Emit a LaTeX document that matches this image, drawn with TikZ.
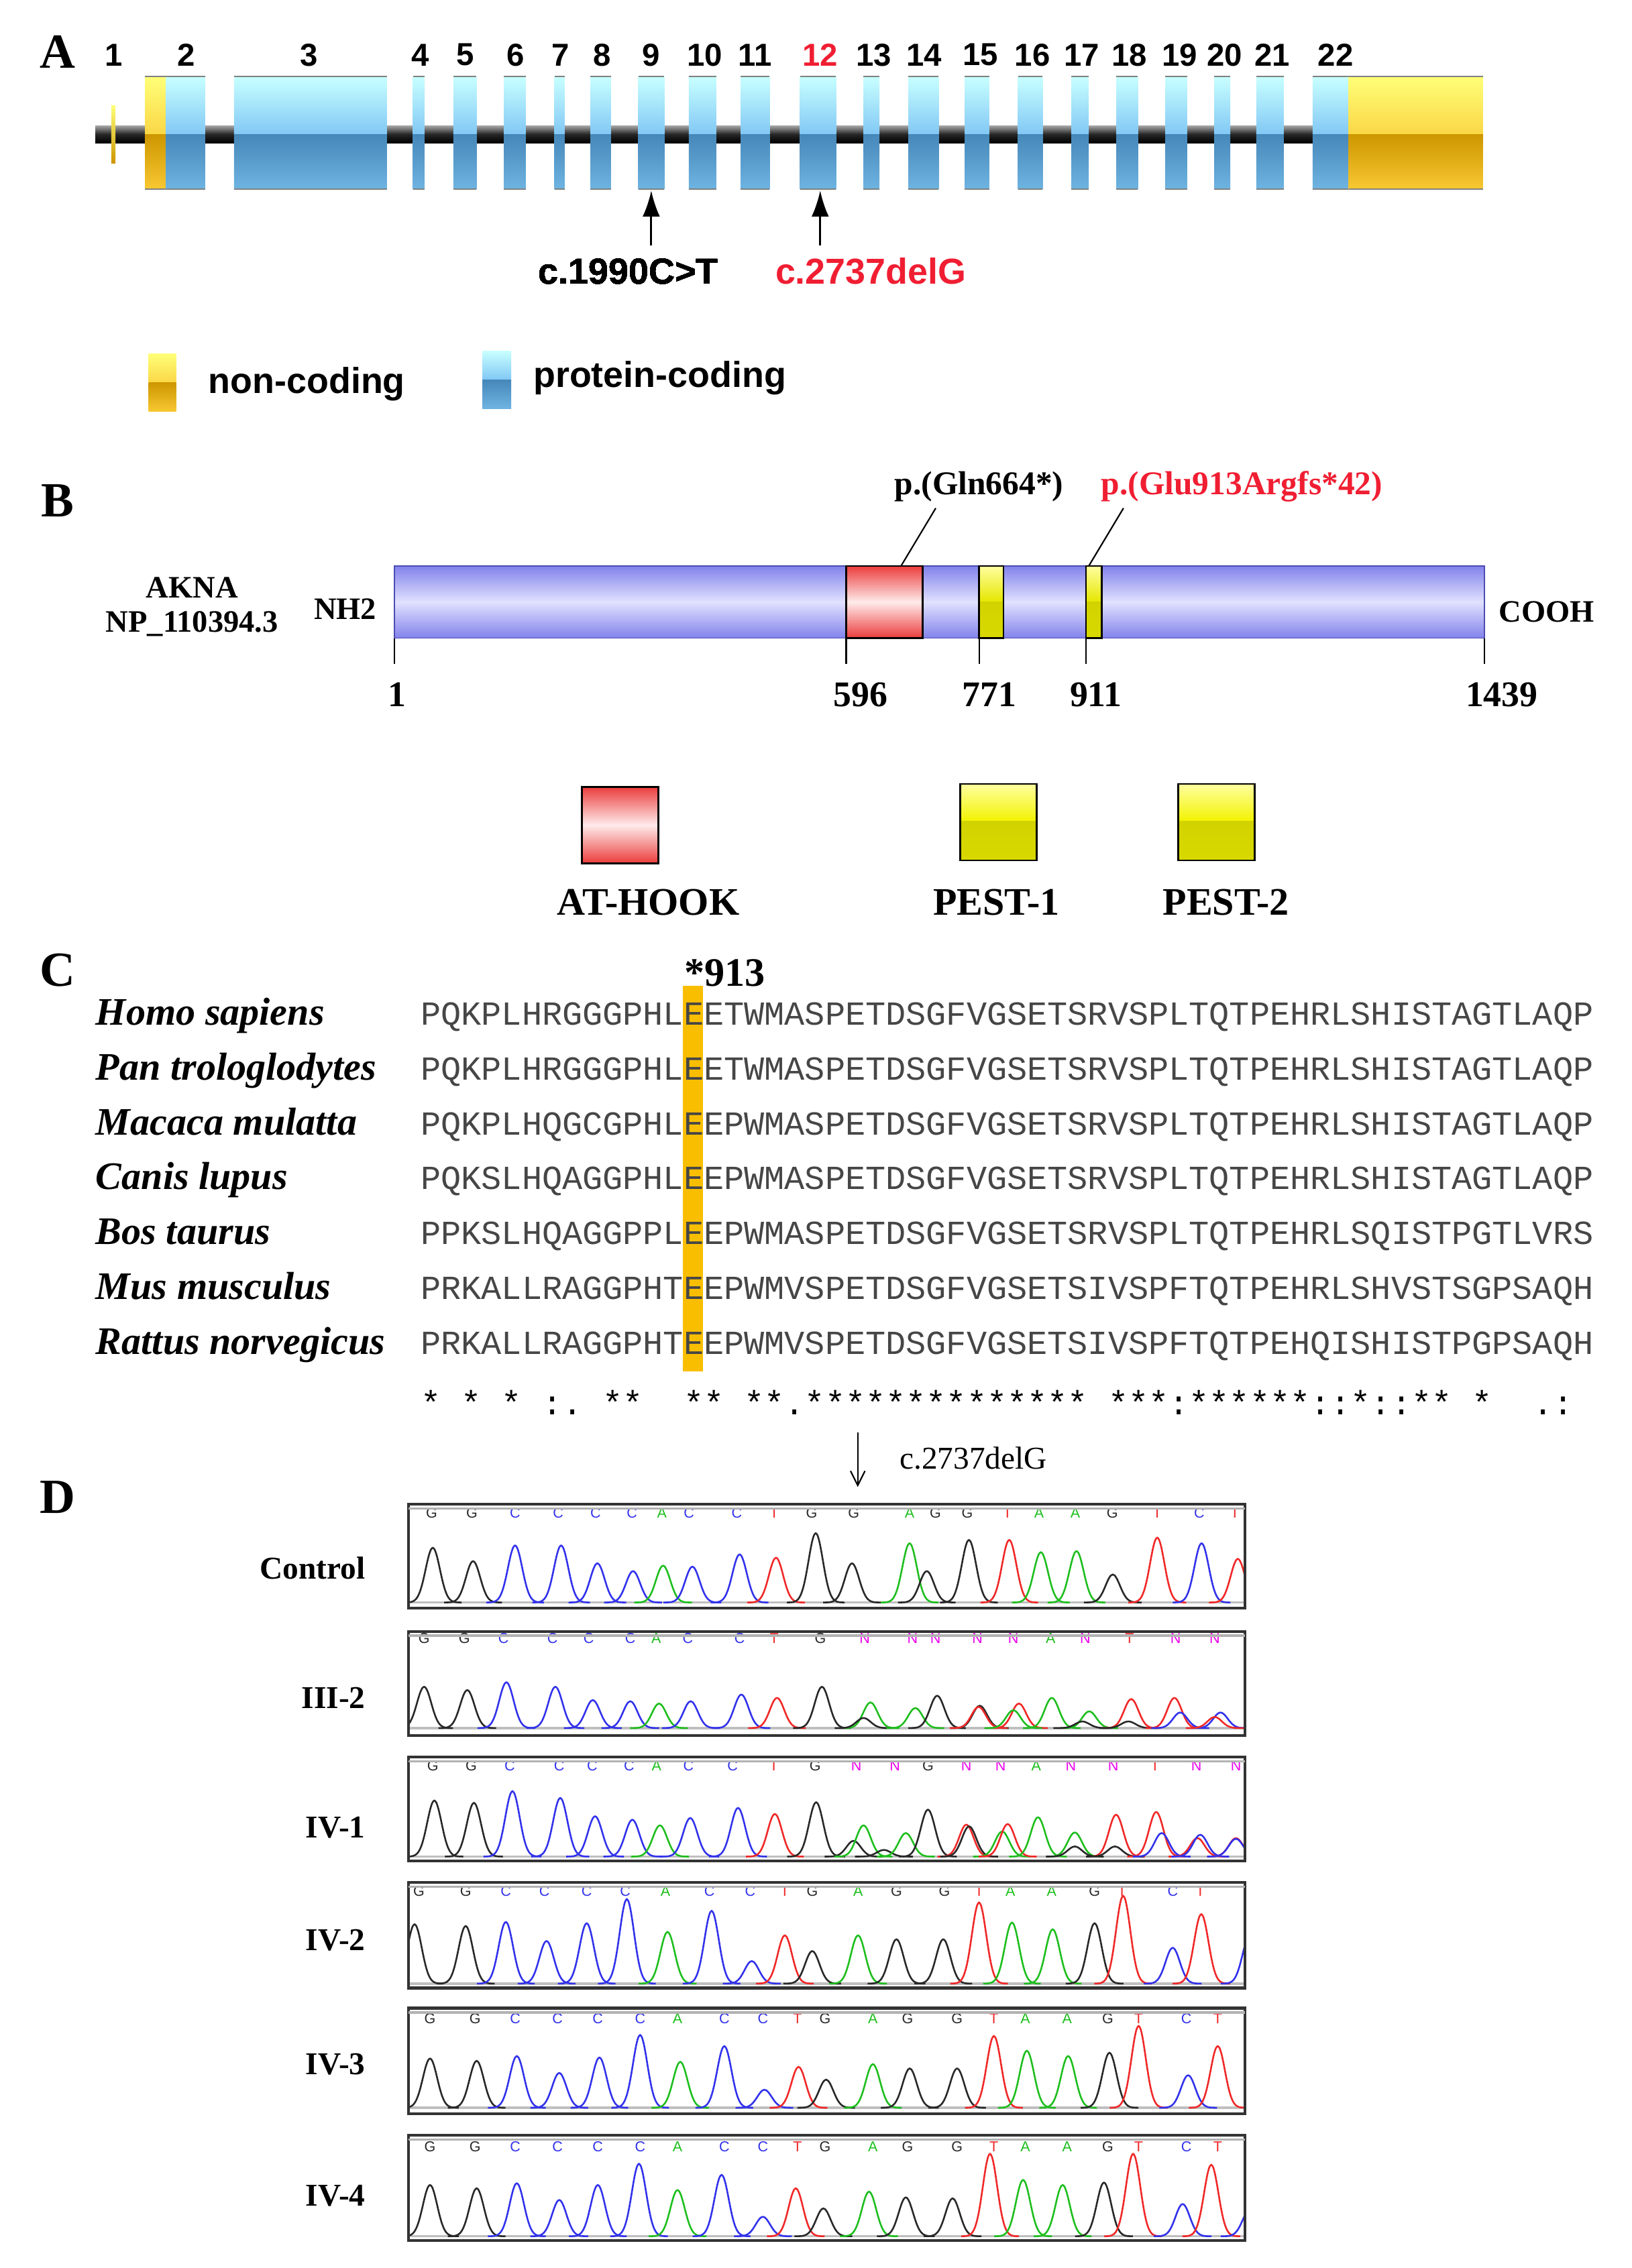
\documentclass[tikz,border=0pt]{standalone}
\usepackage{fontspec}
\setmainfont{Liberation Serif}
\newfontfamily\arialf{Liberation Sans}
\newfontfamily\monof{Liberation Mono}
\usetikzlibrary{arrows.meta}
\definecolor{bG}{RGB}{40,40,40}
\definecolor{bC}{RGB}{50,50,235}
\definecolor{bA}{RGB}{30,190,30}
\definecolor{bT}{RGB}{240,40,40}
\definecolor{bN}{RGB}{235,0,235}
\definecolor{exTop}{RGB}{200,255,255}
\definecolor{exMid}{RGB}{130,200,245}
\definecolor{exDark}{RGB}{70,135,185}
\definecolor{exBot}{RGB}{110,180,225}
\definecolor{yTop}{RGB}{255,255,120}
\definecolor{yMid}{RGB}{250,215,70}
\definecolor{yDark}{RGB}{205,150,0}
\definecolor{yBot}{RGB}{248,200,50}
\definecolor{hl}{RGB}{250,190,0}
\definecolor{mut}{RGB}{240,30,50}
\definecolor{barEdge}{RGB}{130,130,235}
\definecolor{barMid}{RGB}{225,225,255}
\definecolor{atRed}{RGB}{235,60,60}
\definecolor{atMid}{RGB}{255,235,235}
\definecolor{pTop}{RGB}{255,255,160}
\definecolor{pBot}{RGB}{210,210,0}
\newcommand\exonB[2]{%
  \shade[top color=exTop,bottom color=exMid] (#1,53) rectangle (#2,93);
  \shade[top color=exDark,bottom color=exBot] (#1,93) rectangle (#2,131);
  \draw[gray,line width=.5pt] (#1,53)--(#2,53) (#1,131)--(#2,131);}
\newcommand\exonY[2]{%
  \shade[top color=yTop,bottom color=yMid] (#1,53) rectangle (#2,93);
  \shade[top color=yDark,bottom color=yBot] (#1,93) rectangle (#2,131);
  \draw[gray,line width=.5pt] (#1,53)--(#2,53) (#1,131)--(#2,131);}
\newcommand\pk[4]{%
  \pgfmathsetmacro\da{#2-20}\pgfmathsetmacro\db{#2+20}%
  \draw[#4,line width=.6pt] plot[domain=\da:\db,samples=31,smooth] (\x,{#1-(#3)*exp(-((\x-(#2))/7)^2)});}
\newcommand\chrom[8]{%
  \begin{scope}
  \clip (283,#1) rectangle (862,#2);
  \draw[gray!50,line width=.8pt] (283,#3) -- (862,#3);
  \foreach \p/\h/\c in {#8} {\pk{#3}{\p}{\h}{b\c}}
  \end{scope}
  \foreach \p/\l in {#7} {\node[font=\fontsize{5}{5}\selectfont\arialf,text=b\l,inner sep=0] at (\p,#4) {\l};}
  \draw[gray!40!black,line width=1pt] (283,#1) rectangle (862,#2);
  \draw[gray!60,line width=.8pt] (283,{#1+3}) -- (862,{#1+3});
  \node[anchor=east,font=\fontsize{11}{11}\selectfont\bfseries] at (260,#6) {#5};}
\tikzset{
  panel/.style={font=\fontsize{17}{17}\selectfont\bfseries,inner sep=0},
  exnum/.style={font=\fontsize{11}{11}\selectfont\arialf\bfseries,inner sep=0},
  mutlab/.style={font=\fontsize{12.5}{12.5}\selectfont\arialf\bfseries,inner sep=0},
  bl/.style={font=\fontsize{12.5}{12.5}\selectfont\bfseries,inner sep=0},
  species/.style={font=\fontsize{13.5}{13.5}\selectfont\bfseries\itshape,anchor=base west,inner sep=0},
  seq/.style={font=\fontsize{11.667}{11.667}\selectfont\monof,text=gray!55!black,anchor=base west,inner sep=0},
}
\begin{document}
\begin{tikzpicture}[x=0.5pt,y=-0.5pt]
\useasboundingbox (0,0) rectangle (1130,1571);
% ---------- Panel A ----------
\node[panel] (pA) at (40,36) {A};
\foreach \n/\xx in {1/79,2/129,3/214,4/291,5/322,6/357,7/388,8/417,9/451,10/488,11/523,13/605,14/640,15/679,16/715,17/749,18/782,19/817,20/848,21/881,22/925}
  \node[exnum] (n\n) at (\xx,38) {\n};
\node[exnum,text=mut] (n12) at (568,38) {12};
\shade[top color=gray!70,bottom color=black,middle color=black!85] (66,87) rectangle (912,99);
\shade[top color=yTop,bottom color=yDark] (77,73) rectangle (80,113);
\exonY{100.5}{115}
\foreach \a/\b in {115/142,162/268,286/294,314/330,349/364,384/391,409/423,442/460,477/496,513/533,554/579,598/609,629/650,668/685,705/722,742/754,773/788,807/822,841/852,870/889,909/934}
  \exonB{\a}{\b}
\exonY{934}{1027}
\node[mutlab] (m1) at (435,188) {c.1990C>T};
\node[mutlab,text=mut] (m2) at (603,188) {c.2737delG};
\coordinate (e9) at (451,132); \coordinate (e9b) at (451,170);
\coordinate (e12) at (568,132); \coordinate (e12b) at (568,170);
\draw[line width=.7pt,-{Latex[length=9pt,width=6pt]}] (e9b) -- (e9);
\draw[line width=.7pt,-{Latex[length=9pt,width=6pt]}] (e12b) -- (e12);
% legend A
\shade[top color=yTop,bottom color=yMid] (103,245) rectangle (122,265);
\shade[top color=yDark,bottom color=yBot] (103,265) rectangle (122,285);
\shade[top color=exTop,bottom color=exMid] (334,243) rectangle (354,263);
\shade[top color=exDark,bottom color=exBot] (334,263) rectangle (354,283);
\node[mutlab,anchor=west] (lg1) at (144,266) {non-coding};
\node[mutlab,anchor=west] (lg2) at (369,262) {protein-coding};
% ---------- Panel B ----------
\node[panel] (pB) at (40,347) {B};
\shade[top color=barEdge,bottom color=barEdge,middle color=barMid] (273,392) rectangle (1028,442);
\draw[gray!60!blue,line width=.4pt] (273,392) rectangle (1028,442);
\shade[top color=atRed,bottom color=atRed,middle color=atMid] (586,392) rectangle (639,442);
\draw[black,line width=.6pt] (586,392) rectangle (639,442);
\foreach \a/\b in {678/695,752/763}{
  \shade[top color=pTop,bottom color=yellow!90!black] (\a,392) rectangle (\b,417);
  \shade[top color=pBot,bottom color=yellow!85!black] (\a,417) rectangle (\b,442);
  \draw[black,line width=.6pt] (\a,392) rectangle (\b,442);}
\foreach \t in {273,586,678,752,1028} \draw[line width=.5pt] (\t,442) -- (\t,460);
\node[bl] (t1) at (275,481) {1};
\node[bl] (t2) at (596,481) {596};
\node[bl] (t3) at (685,481) {771};
\node[bl] (t4) at (759,481) {911};
\node[bl] (t5) at (1040,481) {1439};
\node[font=\fontsize{10.8}{10.8}\selectfont\bfseries,inner sep=0] (ak) at (133,407) {AKNA};
\node[font=\fontsize{10.8}{10.8}\selectfont\bfseries,inner sep=0] (np) at (133,432) {NP\_110394.3};
\node[font=\fontsize{10.8}{10.8}\selectfont\bfseries,inner sep=0] (nh) at (239,422) {NH2};
\node[font=\fontsize{10.8}{10.8}\selectfont\bfseries,inner sep=0] (co) at (1071,424) {COOH};
\node[font=\fontsize{11.5}{11.5}\selectfont\bfseries,inner sep=0] (g664) at (678,337) {p.(Gln664*)};
\node[font=\fontsize{11.5}{11.5}\selectfont\bfseries,text=mut,inner sep=0] (g913) at (860,337) {p.(Glu913Argfs*42)};
\coordinate (c1a) at (648,352); \coordinate (c1b) at (624,392);
\coordinate (c2a) at (778,352); \coordinate (c2b) at (754,392);
\draw[line width=.5pt] (c1a) -- (c1b);
\draw[line width=.5pt] (c2a) -- (c2b);
% legend B
\shade[top color=atRed,bottom color=atRed,middle color=atMid] (403,545) rectangle (456,598);
\draw[line width=.6pt] (403,545) rectangle (456,598);
\foreach \a in {665,816}{
  \shade[top color=pTop,bottom color=yellow!95!black] (\a,543) rectangle (\a+53,569);
  \shade[top color=pBot,bottom color=yellow!85!black] (\a,569) rectangle (\a+53,596);
  \draw[line width=.6pt] (\a,543) rectangle (\a+53,596);}
\node[font=\fontsize{13.5}{13.5}\selectfont\bfseries,inner sep=0] (lat) at (449,625) {AT-HOOK};
\node[font=\fontsize{13.5}{13.5}\selectfont\bfseries,inner sep=0] (lp1) at (690,625) {PEST-1};
\node[font=\fontsize{13.5}{13.5}\selectfont\bfseries,inner sep=0] (lp2) at (849,625) {PEST-2};
% ---------- Panel C ----------
\node[panel] (pC) at (40,672) {C};
\fill[hl] (473,683) rectangle (487,950);
\node[font=\fontsize{14}{14}\selectfont\bfseries,inner sep=0] (s913) at (502,674) {*913};
\foreach \i/\sp/\sq in {0/Homo sapiens/PQKPLHRGGGPHLEETWMASPETDSGFVGSETSRVSPLTQTPEHRLSHISTAGTLAQP,
  1/Pan trologlodytes/PQKPLHRGGGPHLEETWMASPETDSGFVGSETSRVSPLTQTPEHRLSHISTAGTLAQP,
  2/Macaca mulatta/PQKPLHQGCGPHLEEPWMASPETDSGFVGSETSRVSPLTQTPEHRLSHISTAGTLAQP,
  3/Canis lupus/PQKSLHQAGGPHLEEPWMASPETDSGFVGSETSRVSPLTQTPEHRLSHISTAGTLAQP,
  4/Bos taurus/PPKSLHQAGGPPLEEPWMASPETDSGFVGSETSRVSPLTQTPEHRLSQISTPGTLVRS,
  5/Mus musculus/PRKALLRAGGPHTEEPWMVSPETDSGFVGSETSIVSPFTQTPEHRLSHVSTSGPSAQH,
  6/Rattus norvegicus/PRKALLRAGGPHTEEPWMVSPETDSGFVGSETSIVSPFTQTPEHQISHISTPGPSAQH}{
  \node[species] (sp\i) at (66,{710+38*\i}) {\sp};
  \node[seq] (sq\i) at (291,{710+38*\i}) {\sq};}
\node[seq,text=black] (cons) at (291,980) {*~*~*~:.~**~~**~**.**************~***:******::*::**~*~~.:};
\coordinate (ar1) at (594,992); \coordinate (ar2) at (594,1030);
\draw[line width=.5pt,-{Straight Barb[length=5pt,width=5pt]}] (ar1) -- (ar2);
\node[font=\fontsize{11}{11}\selectfont,inner sep=0] (dl) at (674,1010) {c.2737delG};
% ---------- Panel D ----------
\node[panel] (pD) at (40,1037) {D};
\chrom{1042}{1114}{1110}{1048}{Control}{1086}
 {298.9/G,326.8/G,356.7/C,386.6/C,412.5/C,437.7/C,458.4/A,477.1/C,510.2/C,536.2/T,562.1/G,591.2/G,629.9/A,647.8/G,669.8/G,697.7/T,719.6/A,744.7/A,770.3/G,801.4/T,830.5/C,855.2/T}
 {299.7/37.9/G,327.6/28.6/G,356.7/39.5/C,388.6/39.5/C,413.7/27.1/C,438.4/21.7/C,459.2/25.5/A,479.5/24.8/C,512.2/33.3/C,537.4/31.0/T,564.9/48.0/G,590.0/27.1/G,629.9/41.0/A,641.8/21.7/G,671.0/43.3/G,698.9/43.3/T,720.8/34.8/A,745.5/35.6/A,770.6/19.4/G,801.4/44.9/T,832.1/41.0/C,857.2/30.2/T}
\chrom{1130}{1202}{1197}{1135}{III-2}{1176}
 {293.7/G,321.6/G,348.7/C,382.6/C,407.7/C,436.5/C,454.4/A,476.3/C,512.2/C,536.2/T,568.1/G,598.8/N,631.9/N,647.8/N,676.9/N,701.7/N,727.6/A,751.5/N,782.2/T,814.1/N,841.2/N}
 {293.7/28.6/G,323.6/26.3/G,350.7/31.7/C,384.6/28.6/C,410.5/19.4/C,436.5/18.6/C,456.4/17.0/A,478.3/18.6/C,513.4/23.2/C,538.1/20.9/T,569.2/28.6/G,602.8/17.8/A,598.0/7.0/G,633.9/13.9/A,649.0/22.4/G,678.5/15.5/G,677.7/14.7/T,705.6/17.0/T,701.7/12.4/A,728.4/20.9/A,754.3/11.6/A,749.5/4.6/G,783.4/20.1/T,781.4/4.6/G,813.3/20.9/T,817.3/10.8/C,845.2/10.8/C,841.2/7.7/T}
\chrom{1217}{1289}{1286}{1223}{IV-1}{1266}
 {299.7/G,326.3/G,353.0/C,387.3/C,410.1/C,435.7/C,454.7/A,476.8/C,507.3/C,535.9/T,564.5/G,593.0/N,619.7/N,642.6/G,669.2/N,692.9/N,717.6/A,741.6/N,770.9/N,799.9/T,828.5/N,855.9/N}
 {300.8/38.8/G,328.2/37.2/G,354.9/45.3/C,388.0/40.6/C,412.1/27.9/C,437.9/25.5/C,457.0/21.6/A,478.0/26.7/C,511.1/33.7/C,536.6/29.5/T,565.2/37.6/G,591.1/10.9/G,598.0/21.6/A,612.1/4.6/G,627.3/16.3/A,642.6/32.5/G,669.2/22.1/T,671.1/20.9/G,694.0/17.4/A,697.8/22.5/T,718.8/27.2/A,744.3/16.7/A,744.3/7.0/G,772.9/29.0/T,772.1/7.0/G,800.7/30.9/T,804.5/16.3/C,829.2/12.8/T,831.2/15.1/C,855.9/12.8/T,855.9/12.3/C}
\chrom{1304}{1377}{1374}{1310}{IV-2}{1344}
 {290.1/G,322.5/G,350.3/C,377.0/C,406.3/C,433.0/C,460.8/A,491.3/C,519.5/C,543.5/T,562.5/G,594.2/A,620.8/G,654.0/G,678.0/T,699.7/A,728.3/A,758.0/G,777.0/T,812.1/C,831.2/T}
 {287.1/41.1/G,322.5/39.9/G,350.3/42.7/C,378.5/29.5/C,406.3/41.8/C,434.1/58.5/C,462.3/35.8/A,492.8/50.4/C,520.6/15.6/C,543.5/33.4/T,562.5/22.5/G,594.2/33.4/A,620.8/30.7/G,653.2/30.7/G,678.0/56.2/T,700.8/42.3/A,729.0/37.6/A,758.0/41.8/G,777.8/60.8/T,812.1/24.8/C,831.9/48.1/T,865.4/33.0/C}
\chrom{1391}{1464}{1460}{1398}{IV-3}{1430}
 {297.8/G,329.0/G,356.8/C,386.1/C,414.0/C,443.3/C,469.2/A,501.6/C,528.3/C,552.3/T,571.3/G,604.5/A,628.5/G,662.8/G,688.3/T,710.0/A,739.0/A,767.1/G,788.5/T,821.6/C,843.3/T}
 {297.8/34.1/G,330.1/32.5/G,357.9/35.8/C,387.3/24.1/C,415.1/34.8/C,443.3/50.4/C,471.1/31.8/A,501.6/42.7/C,529.4/12.5/C,553.0/28.3/T,572.1/19.5/G,604.5/30.2/A,630.0/27.2/G,662.8/27.2/G,688.3/49.7/T,711.1/39.5/A,739.7/35.8/A,768.3/38.1/G,788.5/56.7/T,822.8/22.5/C,843.3/42.7/T}
\chrom{1479}{1552}{1549}{1487}{IV-4}{1521}
 {297.8/G,329.0/G,356.8/C,386.1/C,414.0/C,443.3/C,469.2/A,501.6/C,528.3/C,552.3/T,571.3/G,604.5/A,628.5/G,662.8/G,688.3/T,710.0/A,739.0/A,767.1/G,788.5/T,821.6/C,843.3/T}
 {297.8/35.5/G,330.1/33.2/G,357.9/36.7/C,387.3/25.1/C,414.0/35.5/C,442.5/50.2/C,469.2/32.0/A,499.7/42.5/C,528.3/13.5/C,551.1/33.2/T,570.2/19.3/G,601.8/30.9/A,627.3/26.9/G,659.7/26.2/G,685.6/57.1/T,708.5/39.0/A,735.9/35.5/A,764.5/37.2/G,784.7/57.1/T,819.0/22.3/C,838.8/49.5/T,865.4/18.1/C}
\end{tikzpicture}
\end{document}
